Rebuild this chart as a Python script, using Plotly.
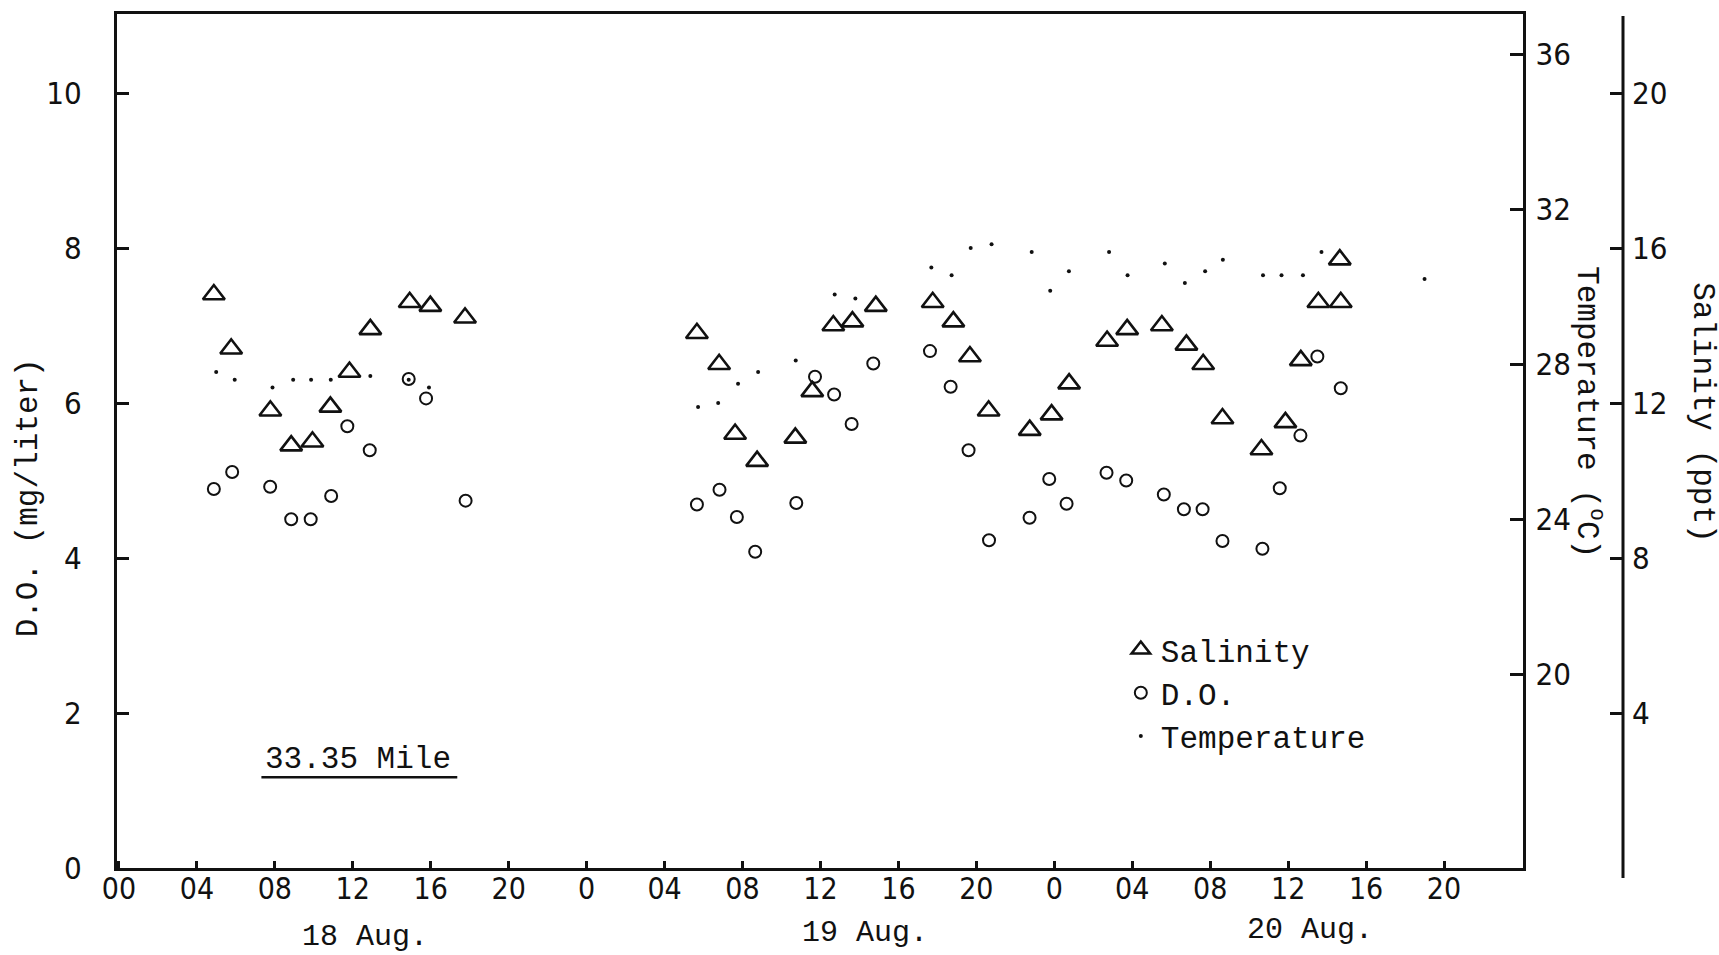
import plotly.graph_objects as go

# ---------------- data (hours counted from 18 Aug 00:00) ----------------
sal_hours = [4.87, 5.76, 7.77, 8.84, 9.93, 10.85, 11.83, 12.9, 14.92, 15.98, 17.76,
             29.66, 30.8, 31.62, 32.75, 34.71, 35.58, 36.66, 37.64, 38.84, 41.76,
             42.82, 43.67, 44.63, 46.74, 47.86, 48.76, 50.71, 51.74, 53.52, 54.78,
             55.64, 56.63, 58.63, 59.86, 60.65, 61.55, 62.7, 62.65]
salinity_ppt = [14.8, 13.4, 11.8, 10.9, 11.0, 11.9, 12.8, 13.9, 14.6, 14.5, 14.2,
                13.8, 13.0, 11.2, 10.5, 11.1, 12.3, 14.0, 14.1, 14.5, 14.6,
                14.1, 13.2, 11.8, 11.3, 11.7, 12.5, 13.6, 13.9, 14.0, 13.5,
                13.0, 11.6, 10.8, 11.5, 13.1, 14.6, 14.6, 15.7]

do_hours = [4.87, 5.81, 7.76, 8.84, 9.84, 10.89, 11.72, 12.87, 14.87, 15.76, 17.79,
            29.66, 30.82, 31.71, 32.65, 34.76, 35.72, 36.70, 37.6, 38.71, 41.62,
            42.68, 43.6, 44.65, 46.73, 47.74, 48.63, 50.68, 51.69, 53.62, 54.65,
            55.61, 56.63, 58.68, 59.57, 60.63, 61.5, 62.7]
do_mg_l = [4.89, 5.11, 4.92, 4.50, 4.50, 4.80, 5.70, 5.39, 6.31, 6.06, 4.74,
           4.69, 4.88, 4.53, 4.08, 4.71, 6.34, 6.11, 5.73, 6.51, 6.67,
           6.21, 5.39, 4.23, 4.52, 5.02, 4.70, 5.10, 5.00, 4.82, 4.63,
           4.63, 4.22, 4.12, 4.90, 5.58, 6.60, 6.19]

temp_hours = [4.99, 5.94, 7.88, 8.94, 9.86, 10.87, 12.9, 14.87, 15.91,
              29.72, 30.75, 31.77, 32.8, 34.73, 36.73, 37.79, 41.69,
              42.73, 43.71, 44.78, 46.84, 47.79, 48.75, 50.81, 51.76, 53.67,
              54.7, 55.74, 56.65, 58.71, 59.66, 60.76, 61.71, 67.0]
temp_c = [27.8, 27.6, 27.4, 27.6, 27.6, 27.6, 27.7, 27.6, 27.4,
          26.9, 27.0, 27.5, 27.8, 28.1, 29.8, 29.7, 30.5,
          30.3, 31.0, 31.1, 30.9, 29.9, 30.4, 30.9, 30.3, 30.6,
          30.1, 30.4, 30.7, 30.3, 30.3, 30.3, 30.9, 30.2]

x_tickvals = list(range(0, 72, 4))
x_ticktext = ["00", "04", "08", "12", "16", "20",
              "0", "04", "08", "12", "16", "20",
              "0", "04", "08", "12", "16", "20"]
do_ticks = [0, 2, 4, 6, 8, 10]
temp_ticks = [20, 24, 28, 32, 36]
sal_ticks = [4, 8, 12, 16, 20]
day_labels = ["18 Aug.", "19 Aug.", "20 Aug."]
station_label = "33.35 Mile"

# ---------------- layout geometry (pixels) ----------------
W, H = 1719, 955
L, R_AX, T, B = 116.5, 1623.5, 11, 868      # plot area (salinity axis at right edge)
FRAME_R = 1523
PW, PH = R_AX - L, B - T


def px(x):
    return (x - L) / PW


def py(y):
    return (B - y) / PH


MONO = "Liberation Mono, Courier New, monospace"
NARROW = "Liberation Sans Narrow, Arial Narrow, DejaVu Sans Condensed, Liberation Sans, sans-serif"
BLACK = "#111111"

fig = go.Figure()
fig.add_trace(go.Scatter(
    x=sal_hours, y=salinity_ppt, yaxis="y3", mode="markers", name="Salinity",
    marker=dict(symbol="triangle-up-open", size=19, color=BLACK, line=dict(width=2.6, color=BLACK))))
fig.add_trace(go.Scatter(
    x=do_hours, y=do_mg_l, yaxis="y", mode="markers", name="D.O.",
    marker=dict(symbol="circle-open", size=12, color=BLACK, line=dict(width=2, color=BLACK))))
fig.add_trace(go.Scatter(
    x=temp_hours, y=temp_c, yaxis="y2", mode="markers", name="Temperature",
    marker=dict(symbol="circle", size=4, color=BLACK)))

fig.update_layout(
    width=W, height=H,
    margin=dict(l=L, r=W - R_AX, t=T, b=H - B, pad=0),
    paper_bgcolor="white", plot_bgcolor="white",
    font=dict(family=MONO, color=BLACK),
    xaxis=dict(domain=[0, px(FRAME_R)], range=[-0.1, 72.03],
               tickvals=x_tickvals, ticktext=x_ticktext,
               ticks="inside", ticklen=7, tickwidth=2.5, tickcolor=BLACK,
               showline=True, linewidth=3, linecolor=BLACK, mirror=True,
               showgrid=False, zeroline=False,
               tickfont=dict(family=NARROW, size=30, color=BLACK),
               ticklabelstandoff=-8),
    yaxis=dict(range=[0, 11.02], tickvals=do_ticks,
               ticks="inside", ticklen=12, tickwidth=3, tickcolor=BLACK,
               showline=True, linewidth=3, linecolor=BLACK, mirror=True,
               showgrid=False, zeroline=False,
               tickfont=dict(family=NARROW, size=31, color=BLACK),
               ticklabelstandoff=26),
    yaxis2=dict(overlaying="y", side="right", anchor="x", range=[15, 37.04],
                tickvals=temp_ticks,
                ticks="inside", ticklen=13, tickwidth=3, tickcolor=BLACK,
                showline=False, showgrid=False, zeroline=False,
                tickfont=dict(family=NARROW, size=31, color=BLACK),
                ticklabelstandoff=12),
    yaxis3=dict(overlaying="y", side="right", anchor="free", position=1.0,
                range=[0, 22.04], tickvals=sal_ticks,
                ticks="inside", ticklen=13, tickwidth=3, tickcolor=BLACK,
                showline=False, showgrid=False, zeroline=False,
                tickfont=dict(family=NARROW, size=31, color=BLACK),
                ticklabelstandoff=8),
    legend=dict(x=px(1121), y=py(622), xanchor="left", yanchor="top",
                font=dict(family=MONO, size=31, color=BLACK),
                bgcolor="rgba(0,0,0,0)", itemwidth=30),
    showlegend=True,
)

# salinity axis line (extends slightly below the frame as in the original)
fig.add_shape(type="line", xref="paper", yref="paper",
              x0=1.0, x1=1.0, y0=py(878), y1=py(13),
              line=dict(color=BLACK, width=3))


def label(text, cx, cy, size=31, angle=0):
    fig.add_annotation(text=text, xref="paper", yref="paper",
                       x=px(cx), y=py(cy), xanchor="center", yanchor="middle",
                       textangle=angle, showarrow=False,
                       font=dict(family=MONO, size=size, color=BLACK))


# axis titles
label("D.O. (mg/liter)", 27.5, 497, angle=-90)
label("Temperature (<sup>o</sup>C)", 1590, 410, angle=90)
label("Salinity (ppt)", 1703, 411, angle=90)

# day labels
for lab, cx, cy in zip(day_labels, [365, 865, 1310], [937, 933, 930]):
    label(lab, cx, cy, size=30)

# station label with underline
label(station_label, 358, 759)
fig.add_shape(type="line", xref="paper", yref="paper",
              x0=px(261), x1=px(457), y0=py(777), y1=py(777),
              line=dict(color=BLACK, width=2.5))

fig.write_html("out.html", config={"displayModeBar": False},
               post_script="document.body.style.margin='0';document.body.style.overflow='hidden';")
